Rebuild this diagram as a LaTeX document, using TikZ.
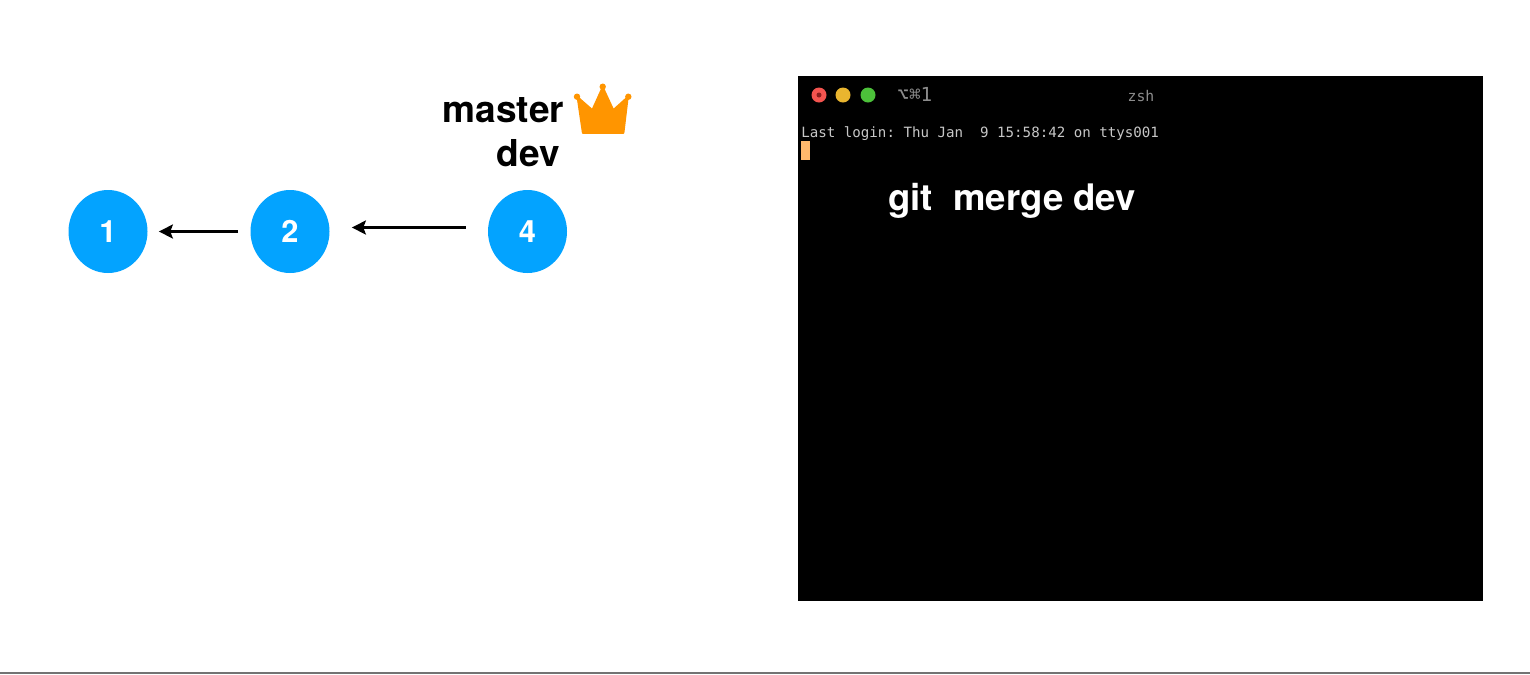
\documentclass[tikz,border=0pt]{standalone}
\usepackage{fontspec}
\setmainfont{TeX Gyre Heros}
\setmonofont{DejaVu Sans Mono}
\definecolor{main}{RGB}{3,163,255}
\definecolor{crown}{RGB}{255,149,0}
\definecolor{lightred}{RGB}{244,84,79}
\definecolor{darkred}{RGB}{140,30,30}
\definecolor{lightyellow}{RGB}{233,181,47}
\definecolor{lightgreen}{RGB}{76,193,58}
\definecolor{cursor}{RGB}{255,184,108}
\usetikzlibrary{
	arrows.meta,
	positioning,
	shapes.geometric
}
\tikzset{
  % arrow
	cstra/.style      ={-{Stealth[length=8pt,width=8pt,inset=1.5pt]},line width=1.3pt},
  % node
	cstnode/.style    ={ellipse,fill=main,text=white,minimum width=.02cm*79,minimum height=.02cm*83,inner sep=0pt,font=\bfseries\fontsize{17.5}{17.5}\selectfont},
	cstlabel/.style   ={inner sep=0pt,text=black,font=\bfseries\fontsize{21.1}{21.1}\selectfont},
	cstcmd/.style     ={inner sep=0pt,text=white,font=\bfseries\fontsize{20.8}{20.8}\selectfont},
	cstterm/.style    ={inner sep=0pt,text=black!22,font=\ttfamily\fontsize{8.05}{8.05}\selectfont},
	csttitle/.style   ={inner sep=0pt,text=black!45,font=\ttfamily\fontsize{8.4}{8.4}\selectfont},
	cstkeys/.style    ={inner sep=0pt,text=black!45,font=\ttfamily\fontsize{11}{11}\selectfont},
  % dot
	cstdot/.style     ={radius=7.5}
}
\begin{document}
\begin{tikzpicture}[x=.02cm,y=-.02cm]
	\useasboundingbox (0,0) rectangle (1530,674);
	\fill[white] (0,0) rectangle (1530,674);
	\draw[black!55,line width=1pt] (0,673) -- (1530,673);
	% commits
	\node[cstnode] (n1) at (108,231.5) {1};
	\node[cstnode] (n2) at (290,231.5) {2};
	\node[cstnode] (n4) at (527.5,231.5) {4};
	\draw[cstra,shorten <=.02cm*12,shorten >=.02cm*11] (n2) -- (n1);
	\draw[cstra,shorten <=.02cm*22,shorten >=.02cm*22] ([yshift=.02cm*4]n4.west) -- ([yshift=.02cm*4]n2.east);
	% branches
	\node[cstlabel,anchor=base east] (master) at (564.5,122.5) {master};
	\node[cstlabel,anchor=base east] (dev) at (560,166) {dev};
	\filldraw[crown,line width=1pt,line join=round] (582.8,133) -- (577.5,97) -- (592.3,110) -- (602.7,87) -- (613.3,110) -- (627.8,97) -- (623.5,133) -- cycle;
	\fill[crown] (577,96.7) circle (3.2) (602.7,86.7) circle (3.2) (628.3,96.7) circle (3.2);
	% terminal
	\fill[black] (798,76) rectangle (1483,601);
	\fill[cstdot,lightred] (819,95) circle;
	\fill[darkred] (819,95) circle (2.5);
	\fill[cstdot,lightyellow] (843,95) circle;
	\fill[cstdot,lightgreen] (868,95) circle;
	\node[cstkeys,anchor=base west] (keys) at (897,101) {⌥⌘1};
	\node[csttitle,anchor=base] (zsh) at (1141,101) {zsh};
	\node[cstterm,anchor=base west] (login) at (801,137) {Last login: Thu Jan\ \ 9 15:58:42 on ttys001};
	\fill[cursor] (801,141) rectangle (810,160);
	\node[cstcmd,anchor=base west] (cmd) at (888,210) {git\ \ merge dev};
\end{tikzpicture}
\end{document}
